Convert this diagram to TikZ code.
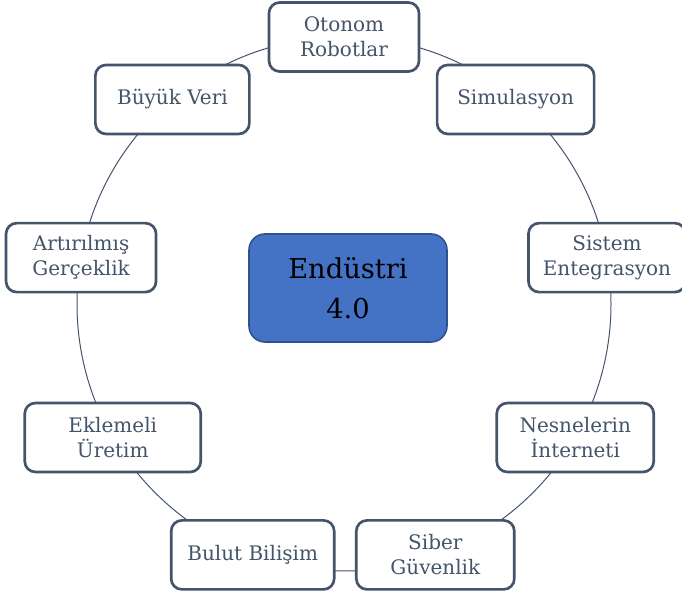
\documentclass[tikz,border=0pt]{standalone}
\usepackage{fontspec}
\setmainfont{DejaVu Serif}
\usetikzlibrary{calc}
\definecolor{slate}{HTML}{44546A}
\definecolor{hubfill}{HTML}{4472C4}
\definecolor{hubline}{HTML}{2F528F}
\tikzset{
  topic/.style={draw=slate,line width=2pt,fill=white,rounded corners=8pt,
    text=slate,align=center,minimum height=51.75pt,inner sep=2pt,
    font=\fontsize{15}{18.75}\selectfont},
  hub/.style={draw=hubline,line width=1.2pt,fill=hubfill,rounded corners=12pt,
    text=black,align=center,minimum width=148.5pt,minimum height=81pt,
    font=\fontsize{20.5}{30}\selectfont},
  ring/.style={draw=slate,line width=0.75pt}
}
\begin{document}
\begin{tikzpicture}[x=0.75pt,y=0.75pt]
\useasboundingbox (0,0) rectangle (682,595);
\coordinate (c) at (344,291);
\draw[ring] (c) circle[radius=267];
% nodes on the ring
\node[topic,minimum width=112.5pt] (robot) at ($(c)+(90:267)$) {Otonom\\Robotlar};
\node[topic,minimum width=117.75pt] (sim) at ($(c)+(50:267)$) {Simulasyon};
\node[topic,minimum width=117.75pt] (sys) at ($(c)+(10:267)$) {Sistem\\Entegrasyon};
\node[topic,minimum width=117.75pt] (iot) at ($(c)+(-30:267)$) {Nesnelerin\\İnterneti};
\node[topic,minimum width=118.5pt] (cyber) at ($(c)+(-70:267)$) {Siber\\Güvenlik};
\node[topic,minimum width=122.25pt] (cloud) at ($(c)+(-110:267)$) {Bulut Bilişim};
\node[topic,minimum width=132pt] (add) at ($(c)+(-150:267)$) {Eklemeli\\Üretim};
\node[topic,minimum width=112.5pt] (ar) at ($(c)+(170:267)$) {Artırılmış\\Gerçeklik};
\node[topic,minimum width=115.5pt] (data) at ($(c)+(130:267)$) {Büyük Veri};
% center
\node[hub] (ind) at (348,307) {Endüstri\\4.0};
\end{tikzpicture}
\end{document}
